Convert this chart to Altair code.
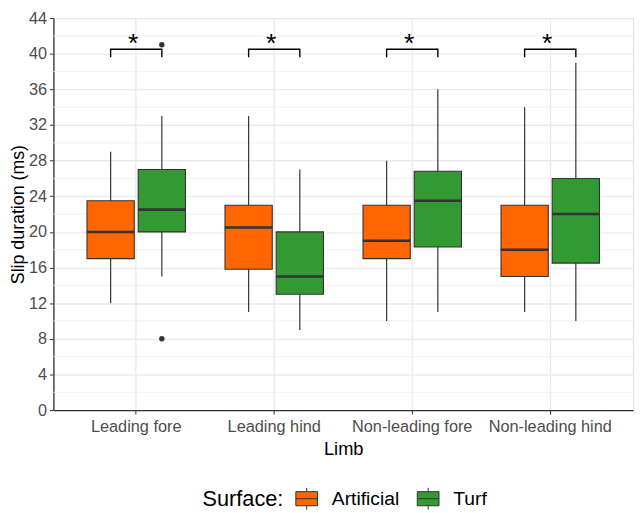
import altair as alt
import pandas as pd

# ---- data ----
limbs = ["Leading fore", "Leading hind", "Non-leading fore", "Non-leading hind"]
surfaces = ["Artificial", "Turf"]

art_lower = [12, 11, 10, 11]
art_q1 = [17, 15.8, 17, 15]
art_median = [20, 20.5, 19, 18]
art_q3 = [23.5, 23, 23, 23]
art_upper = [29, 33, 28, 34]

turf_lower = [15, 9, 11, 10]
turf_q1 = [20, 13, 18.3, 16.5]
turf_median = [22.5, 15, 23.5, 22]
turf_q3 = [27, 20, 26.8, 26]
turf_upper = [33, 27, 36, 39]

outlier_limb = ["Leading fore", "Leading fore"]
outlier_surface = ["Turf", "Turf"]
outlier_value = [41, 8]

sig_limbs = ["Leading fore", "Leading hind", "Non-leading fore", "Non-leading hind"]
sig_bar_y = 40.5
sig_tip_y = 39.6
sig_star_y = 40.2

major_breaks = [0, 4, 8, 12, 16, 20, 24, 28, 32, 36, 40, 44]
minor_breaks = [2, 6, 10, 14, 18, 22, 26, 30, 34, 38, 42]

colors = ["#FF6600", "#339933"]

# ---- tables ----
rows = []
stats = {
    "Artificial": (art_lower, art_q1, art_median, art_q3, art_upper),
    "Turf": (turf_lower, turf_q1, turf_median, turf_q3, turf_upper),
}
for s in surfaces:
    lo, q1, md, q3, up = stats[s]
    for i, l in enumerate(limbs):
        rows.append({"Limb": l, "Surface": s, "lower": lo[i], "q1": q1[i],
                     "median": md[i], "q3": q3[i], "upper": up[i]})
box = pd.DataFrame(rows)

out = pd.DataFrame({"Limb": outlier_limb, "Surface": outlier_surface, "value": outlier_value})

br_rows = []
for l in sig_limbs:
    br_rows += [
        {"Limb": l, "Surface": "Artificial", "y": sig_tip_y, "o": 0},
        {"Limb": l, "Surface": "Artificial", "y": sig_bar_y, "o": 1},
        {"Limb": l, "Surface": "Turf", "y": sig_bar_y, "o": 2},
        {"Limb": l, "Surface": "Turf", "y": sig_tip_y, "o": 3},
    ]
brackets = pd.DataFrame(br_rows)
stars = pd.DataFrame({"Limb": sig_limbs, "y": [sig_star_y] * len(sig_limbs)})
minor = pd.DataFrame({"v": minor_breaks})

FONT = "Liberation Sans"
YTITLE = "Slip duration (ms)"

xscale = alt.Scale(domain=limbs, paddingInner=0, paddingOuter=0.1)
xaxis = alt.Axis(title="Limb", bandPosition=0.5, labelAngle=0, labelFontSize=16.5,
                 labelColor="#4D4D4D", labelFont=FONT, labelPadding=5,
                 tickSize=4, tickColor="#333333", domainColor="#333333", domainWidth=1.3,
                 gridColor="#EBEBEB", gridWidth=1.4, grid=True,
                 titleFontSize=18.5, titleFont=FONT, titleColor="black",
                 titleFontWeight="normal", titlePadding=4)
yscale = alt.Scale(domain=[0, 44], nice=False, zero=False)
yaxis = alt.Axis(title=YTITLE, values=major_breaks, labelFontSize=16.5,
                 labelColor="#4D4D4D", labelFont=FONT, labelPadding=3,
                 tickSize=4, tickColor="#333333", domainColor="#333333", domainWidth=1.3,
                 gridColor="#EBEBEB", gridWidth=1.4,
                 titleFontSize=18, titleFont=FONT, titleColor="black",
                 titleFontWeight="normal", titlePadding=1)
xoff = alt.XOffset("Surface:N", scale=alt.Scale(domain=surfaces, paddingInner=0.077, paddingOuter=0.386))


def X():
    return alt.X("Limb:N", scale=xscale, axis=xaxis, sort=limbs)


def Y(field):
    return alt.Y(field, scale=yscale, axis=yaxis, title=YTITLE)


legend_path = "M-1,-0.65L1,-0.65L1,0.65L-1,0.65Z M-1,0L1,0 M0,-0.65L0,-1 M0,0.65L0,1"

minor_layer = alt.Chart(minor).mark_rule(color="#F0F0F0", strokeWidth=0.9).encode(
    y=Y("v:Q")
)

bracket_layer = alt.Chart(brackets).mark_line(color="black", strokeWidth=1.4).encode(
    x=X(), xOffset=xoff, y=Y("y:Q"), detail="Limb:N", order="o:Q"
)

star_layer = alt.Chart(stars).mark_text(
    text="*", fontSize=27, font=FONT, baseline="alphabetic", dx=-3, color="black"
).encode(x=X(), y=Y("y:Q"))

whisker_layer = alt.Chart(box).mark_rule(color="#333333", strokeWidth=1.2).encode(
    x=X(), xOffset=xoff, y=Y("lower:Q"), y2="upper:Q"
)

box_layer = alt.Chart(box).mark_bar(stroke="#333333", strokeWidth=1.1, opacity=1).encode(
    x=X(), xOffset=xoff, y=Y("q1:Q"), y2="q3:Q",
    color=alt.Color("Surface:N", scale=alt.Scale(domain=surfaces, range=colors),
                    legend=alt.Legend(
                        title="Surface:", orient="none", legendX=151, legendY=475,
                        direction="horizontal", titleOrient="left",
                        titleFontSize=22, titleFont=FONT, titleColor="black",
                        titleFontWeight="normal", titlePadding=12, titleBaseline="middle",
                        labelFontSize=19.5, labelFont=FONT, labelColor="black",
                        labelOffset=14, columnPadding=15,
                        symbolType=legend_path, symbolSize=484,
                        symbolStrokeColor="#333333", symbolStrokeWidth=1,
                        symbolOpacity=1, padding=0))
)

median_layer = alt.Chart(box).mark_tick(color="#333333", thickness=2.6, size=48, opacity=1).encode(
    x=X(), xOffset=xoff, y=Y("median:Q")
)

outlier_layer = alt.Chart(out).mark_point(filled=True, size=30, color="#333333", opacity=1).encode(
    x=X(), xOffset=xoff, y=Y("value:Q")
)

chart = alt.layer(
    minor_layer, bracket_layer, star_layer, whisker_layer, box_layer, median_layer, outlier_layer
).properties(
    width=587, height=397,
    autosize=alt.AutoSizeParams(type="none"),
    padding={"left": 46, "top": 7, "right": 3, "bottom": 101},
).configure_view(stroke="#999999", strokeWidth=1).configure(font=FONT)

chart.save("out.html", embed_options={"renderer": "svg", "actions": False})
